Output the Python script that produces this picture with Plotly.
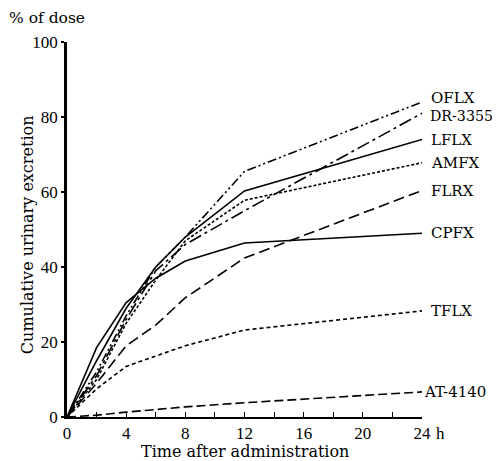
import plotly.graph_objects as go

times = [0, 2, 4, 6, 8, 12, 24]
names = ["OFLX", "DR-3355", "LFLX", "AMFX", "FLRX", "CPFX", "TFLX", "AT-4140"]
oflx = [0, 12, 27, 40, 48, 65.5, 84]
dr3355 = [0, 11, 26, 39, 46, 55, 81]
lflx = [0, 15, 29, 40, 48, 60.3, 74]
amfx = [0, 10, 25, 36.5, 47, 57.8, 67.8]
flrx = [0, 9, 19, 24.5, 31.8, 42.4, 60.4]
cpfx = [0, 18.5, 30.5, 37, 41.6, 46.4, 49]
tflx = [0, 7.5, 13.5, 16.2, 19, 23.2, 28.3]
at4140 = [0, 0.5, 1.3, 2, 2.7, 3.8, 6.7]
series = [oflx, dr3355, lflx, amfx, flrx, cpfx, tflx, at4140]
dashes = ["9px,3px,2px,3px,2px,3px", "13px,4px,3px,4px", "solid", "3px,2px",
          "11px,5px", "solid", "4px,3px", "9px,4px"]
label_xshift = [7, 6, 7, 7, 7, 7, 7, 0]
label_yshift = [4, -3, 0, 0, 0, 0, 0, 0]
label_size = [15, 14.2, 15, 15, 15, 15, 15, 15]

xtick_vals = list(range(0, 25, 2))
xtick_text = ["0", "", "4", "", "8", "", "12", "", "16", "", "20", "", "24"]
ytick_vals = [0, 20, 40, 60, 80, 100]

FONT = "DejaVu Serif"
TICKFONT = "Liberation Serif"

fig = go.Figure()
for name, vals, dash, sx, sy, fs in zip(names, series, dashes, label_xshift,
                                         label_yshift, label_size):
    fig.add_trace(go.Scatter(x=times, y=vals, mode="lines", name=name,
                             line=dict(color="black", width=1.6, dash=dash),
                             cliponaxis=False))
    fig.add_annotation(x=24, y=vals[-1], xref="x", yref="y", text=name,
                       showarrow=False, xanchor="left", xshift=sx, yshift=sy,
                       font=dict(family=FONT, size=fs, color="black"))

fig.add_annotation(x=24, y=0, xref="x", yref="y", text="h", showarrow=False,
                   xanchor="left", yanchor="top", xshift=12, yshift=-5,
                   font=dict(family=TICKFONT, size=17, color="black"))
fig.add_annotation(x=0, y=1, xref="paper", yref="paper", text="% of dose",
                   showarrow=False, xanchor="left", yanchor="middle",
                   xshift=-60, yshift=24,
                   font=dict(family=FONT, size=15.5, color="black"))
fig.add_annotation(x=0.5, y=0, xref="paper", yref="paper",
                   text="Time after administration", showarrow=False,
                   xanchor="center", yanchor="middle", yshift=-34,
                   font=dict(family=FONT, size=16, color="black"))
fig.add_annotation(x=0, y=0.485, xref="paper", yref="paper",
                   text="Cumulative urinary excretion", showarrow=False,
                   xanchor="center", yanchor="middle", xshift=-40,
                   textangle=-90,
                   font=dict(family=FONT, size=16, color="black"))

fig.update_layout(
    width=492, height=453,
    margin=dict(l=59, r=78, t=34, b=44, autoexpand=False),
    paper_bgcolor="white", plot_bgcolor="white",
    showlegend=False,
    font=dict(family=FONT, size=15, color="black"),
)
fig.update_xaxes(range=[0, 24], tickvals=xtick_vals, ticktext=xtick_text,
                 ticks="inside", ticklen=5, tickwidth=1.2, tickcolor="black",
                 tickfont=dict(family=TICKFONT, size=17),
                 showline=True, linecolor="black", linewidth=2,
                 showgrid=False, zeroline=False, automargin=False)
fig.update_yaxes(range=[0, 100], tickvals=ytick_vals,
                 ticks="outside", ticklen=3, tickwidth=1.5, tickcolor="black",
                 tickfont=dict(family=TICKFONT, size=17),
                 showline=True, linecolor="black", linewidth=2.5,
                 showgrid=False, zeroline=False, automargin=False)

fig.write_html("out.html")
